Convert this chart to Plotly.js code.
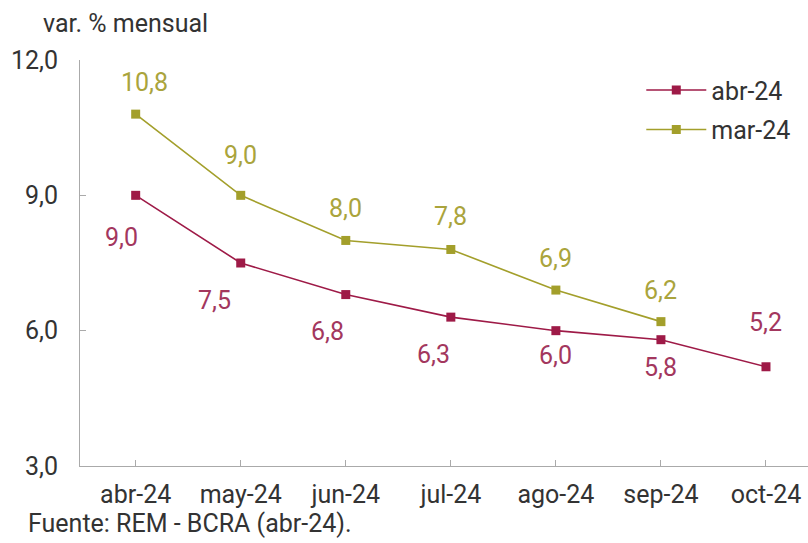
<!DOCTYPE html>
<html><head><meta charset="utf-8">
<script src="https://cdn.plot.ly/plotly-3.0.1.min.js"></script>
<style>html,body{margin:0;padding:0;background:#fff}#c{width:808px;height:543px}</style>
</head><body><div id="c"></div>
<script>
const categories = ['abr-24','may-24','jun-24','jul-24','ago-24','sep-24','oct-24'];
const abr24 = [9.0, 7.5, 6.8, 6.3, 6.0, 5.8, 5.2];
const mar24 = [10.8, 9.0, 8.0, 7.8, 6.9, 6.2];
const yTicks = [3, 6, 9, 12];

const cAbr = '#9e1a47';
const cMar = '#a39f2b';
const cAbrTxt = '#a3375e';
const cMarTxt = '#aaa43c';
const FS = 25;

// label offsets (px) for annotations
const abrOff = [[-14,-42],[-26,-37],[-18,-37],[-17,-37],[0,-25],[0,-28],[0,44]];
const marOff = [[9,32],[0,40],[0,32],[0,33],[0,32],[0,31]];

const fmt = v => v.toFixed(1).replace('.', ',');
const ann = [];
abr24.forEach((v,i)=>ann.push({x:categories[i], y:v, text:fmt(v), showarrow:false,
  xshift:abrOff[i][0], yshift:abrOff[i][1], font:{color:cAbrTxt, size:FS, family:'Roboto'}}));
mar24.forEach((v,i)=>ann.push({x:categories[i], y:v, text:fmt(v), showarrow:false,
  xshift:marOff[i][0], yshift:marOff[i][1], font:{color:cMarTxt, size:FS, family:'Roboto'}}));
ann.push({xref:'paper', yref:'paper', x:-0.054, y:1.0, yshift:37, xanchor:'left', yanchor:'middle',
  text:'var. % mensual', showarrow:false, font:{size:FS, color:'#333', family:'Roboto'}});
ann.push({xref:'paper', yref:'paper', x:-0.074, y:0, yshift:-57, xanchor:'left', yanchor:'middle',
  text:'Fuente: REM - BCRA (abr-24).', showarrow:false, font:{size:FS, color:'#333', family:'Roboto'}});

const traces = [
  {x:categories, y:abr24, name:'abr-24', type:'scatter', mode:'lines+markers', legendgroup:'a',
   line:{color:cAbr, width:1.6}, marker:{symbol:'square', size:9, color:cAbr}},
  {x:categories.slice(0, mar24.length), y:mar24, name:'mar-24', type:'scatter', mode:'lines+markers', legendgroup:'b',
   line:{color:cMar, width:1.6}, marker:{symbol:'square', size:9, color:cMar}}
];

const layout = {
  width:808, height:543,
  margin:{l:80, r:0, t:60, b:77},
  paper_bgcolor:'#fff', plot_bgcolor:'#fff',
  separators:',.',
  font:{family:'Roboto', size:FS, color:'#333'},
  showlegend:true,
  legend:{x:0.771, y:0.982, xanchor:'left', yanchor:'top', font:{size:FS, color:'#333'},
    bgcolor:'rgba(0,0,0,0)', traceorder:'grouped', tracegroupgap:4, itemwidth:60},
  xaxis:{type:'category', range:[-0.53, 6.4], showgrid:false, zeroline:false,
    showline:true, linecolor:'#aaa', linewidth:1, ticks:'inside', ticklen:6, tickcolor:'#aaa',
    tickfont:{size:FS, color:'#333'}, ticklabelstandoff:6, fixedrange:true},
  yaxis:{range:[3, 12], tickvals:yTicks, tickformat:'.1f', showgrid:false, zeroline:false,
    showline:true, linecolor:'#aaa', linewidth:1, ticks:'inside', ticklen:6, tickcolor:'#aaa',
    tickfont:{size:FS, color:'#333'}, ticklabelstandoff:16, fixedrange:true},
  annotations:ann
};
Plotly.newPlot('c', traces, layout, {displayModeBar:false, staticPlot:true});
</script></body></html>
